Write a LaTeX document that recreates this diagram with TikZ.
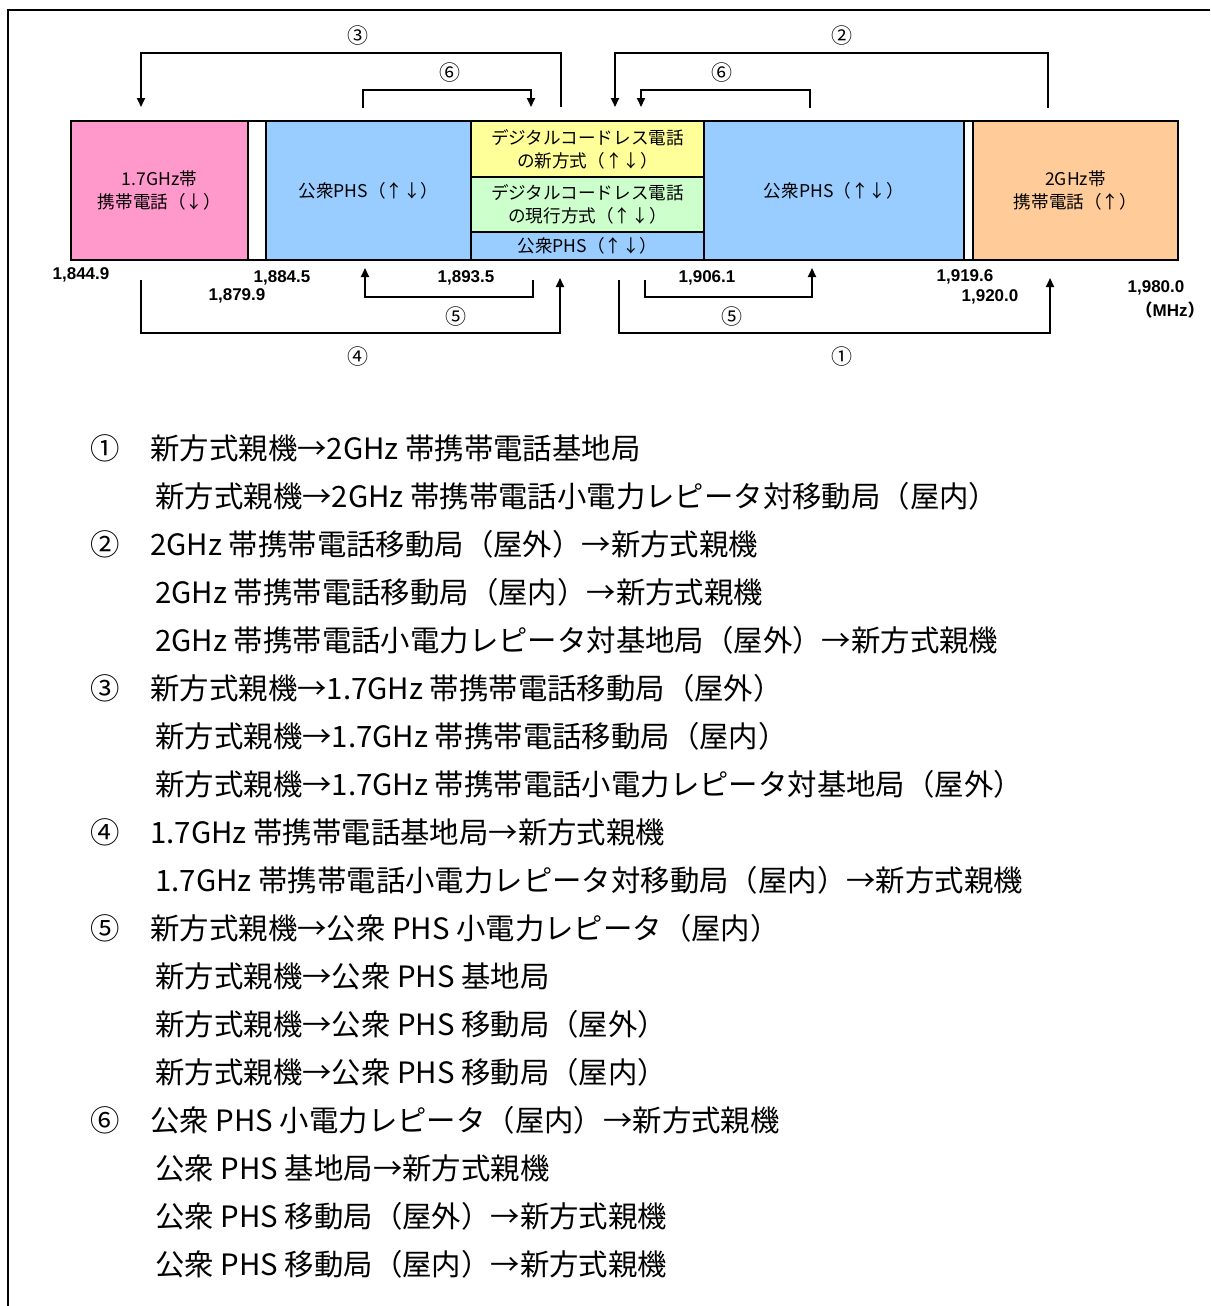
\documentclass[tikz,border=0pt]{standalone}
\usepackage{fontspec}
\setmainfont{Noto Sans CJK JP}
\newfontfamily\numfont{Liberation Sans}
\usetikzlibrary{arrows.meta}
\definecolor{cpink}{HTML}{FF99CC}
\definecolor{cblue}{HTML}{99CCFF}
\definecolor{cyellow}{HTML}{FFFF99}
\definecolor{cgreen}{HTML}{CCFFCC}
\definecolor{corange}{HTML}{FFCC99}
\begin{document}
\begin{tikzpicture}[x=0.5pt,y=-0.5pt,
 band/.style={draw=black,line width=0.75pt,inner sep=0pt,align=center,font=\fontsize{8.8}{11.5}\selectfont},
 conn/.style={draw=black,line width=1pt},
 arr/.style={conn,-{Triangle[length=4.5pt,width=4pt]}},
 num/.style={font=\numfont\bfseries\fontsize{8.5}{10}\selectfont,inner sep=0pt},
 circ/.style={font=\fontsize{10.5}{12}\selectfont,inner sep=0pt},
 litem/.style={anchor=west,inner sep=0pt,font=\fontsize{14.7}{16}\selectfont},
 lcirc/.style={inner sep=0pt,font=\fontsize{14.7}{16}\selectfont}
]
\useasboundingbox (0,0) rectangle (1210,1306);
% frame
\coordinate (fa) at (1210,10);
\coordinate (fb) at (8,10);
\coordinate (fc) at (8,1306);
\draw[line width=1pt] (fa) -- (fb) -- (fc);

% band
\node[band,fill=cpink,minimum width=88.5pt,minimum height=69.5pt] (pink) at (159.5,190.5) {1.7GHz帯\\携帯電話（↓）};
\node[band,fill=white,minimum width=9pt,minimum height=69.5pt] (gap1) at (257,190.5) {};
\node[band,fill=cblue,minimum width=102.5pt,minimum height=69.5pt] (phsA) at (368.5,190.5) {公衆PHS（↑↓）};
\node[band,fill=cyellow,minimum width=116.5pt,minimum height=28pt] (newdc) at (587.5,149) {デジタルコードレス電話\\の新方式（↑↓）};
\node[band,fill=cgreen,minimum width=116.5pt,minimum height=27.5pt] (curdc) at (587.5,204.5) {デジタルコードレス電話\\の現行方式（↑↓）};
\node[band,fill=cblue,minimum width=116.5pt,minimum height=14pt] (phsM) at (587.5,246) {公衆PHS（↑↓）};
\node[band,fill=cblue,minimum width=130pt,minimum height=69.5pt] (phsB) at (834,190.5) {公衆PHS（↑↓）};
\node[band,fill=white,minimum width=4.5pt,minimum height=69.5pt] (gap2) at (968.5,190.5) {};
\node[band,fill=corange,minimum width=102.5pt,minimum height=69.5pt] (orange) at (1075.5,190.5) {2GHz帯\\携帯電話（↑）};

% frequency labels
\node[num] (f1) at (81,275) {1,844.9};
\node[num] (f2) at (282,278) {1,884.5};
\node[num] (f3) at (237,296) {1,879.9};
\node[num] (f4) at (466,278) {1,893.5};
\node[num] (f5) at (707,278) {1,906.1};
\node[num] (f6) at (965,277) {1,919.6};
\node[num] (f7) at (990,297) {1,920.0};
\node[num] (f8) at (1156,288) {1,980.0};
\node[num,anchor=east] (f9) at (1205,310) {{\rmfamily （}MHz{\rmfamily ）}};

% top brackets
\coordinate (t3a) at (561,107); \coordinate (t3b) at (561,53);
\coordinate (t3c) at (141,53);  \coordinate (t3d) at (141,107);
\draw[arr] (t3a) -- (t3b) -- (t3c) -- (t3d);
\node[circ] (n3) at (358,36) {③};
\coordinate (t6a) at (363,108); \coordinate (t6b) at (363,90);
\coordinate (t6c) at (531,90);  \coordinate (t6d) at (531,107);
\draw[arr] (t6a) -- (t6b) -- (t6c) -- (t6d);
\node[circ] (n6a) at (450,73) {⑥};
\coordinate (t2a) at (1048,108); \coordinate (t2b) at (1048,53);
\coordinate (t2c) at (615,53);   \coordinate (t2d) at (615,107);
\draw[arr] (t2a) -- (t2b) -- (t2c) -- (t2d);
\node[circ] (n2) at (842,36) {②};
\coordinate (t6e) at (810,108); \coordinate (t6f) at (810,90);
\coordinate (t6g) at (641,90);  \coordinate (t6h) at (641,107);
\draw[arr] (t6e) -- (t6f) -- (t6g) -- (t6h);
\node[circ] (n6b) at (722,73) {⑥};

% bottom brackets
\coordinate (b4a) at (141,280); \coordinate (b4b) at (141,333);
\coordinate (b4c) at (560,333); \coordinate (b4d) at (560,278);
\draw[arr] (b4a) -- (b4b) -- (b4c) -- (b4d);
\node[circ] (n4) at (358,357) {④};
\coordinate (b5a) at (533,280); \coordinate (b5b) at (533,297);
\coordinate (b5c) at (365,297); \coordinate (b5d) at (365,268);
\draw[arr] (b5a) -- (b5b) -- (b5c) -- (b5d);
\node[circ] (n5a) at (456,317) {⑤};
\coordinate (b1a) at (619,280); \coordinate (b1b) at (619,333);
\coordinate (b1c) at (1050,333); \coordinate (b1d) at (1050,278);
\draw[arr] (b1a) -- (b1b) -- (b1c) -- (b1d);
\node[circ] (n1) at (842,357) {①};
\coordinate (b5e) at (645,280); \coordinate (b5f) at (645,297);
\coordinate (b5g) at (812,297); \coordinate (b5h) at (812,268);
\draw[arr] (b5e) -- (b5f) -- (b5g) -- (b5h);
\node[circ] (n5b) at (732,317) {⑤};

% list
\node[lcirc] (k1) at (105,448) {①};
\node[litem] (l0) at (150,448) {新方式親機→2GHz 帯携帯電話基地局};
\node[litem] (l1) at (155,496) {新方式親機→2GHz 帯携帯電話小電力レピータ対移動局（屋内）};
\node[lcirc] (k2) at (105,544) {②};
\node[litem] (l2) at (150,544) {2GHz 帯携帯電話移動局（屋外）→新方式親機};
\node[litem] (l3) at (155,592) {2GHz 帯携帯電話移動局（屋内）→新方式親機};
\node[litem] (l4) at (155,640) {2GHz 帯携帯電話小電力レピータ対基地局（屋外）→新方式親機};
\node[lcirc] (k3) at (105,688) {③};
\node[litem] (l5) at (150,688) {新方式親機→1.7GHz 帯携帯電話移動局（屋外）};
\node[litem] (l6) at (155,736) {新方式親機→1.7GHz 帯携帯電話移動局（屋内）};
\node[litem] (l7) at (155,784) {新方式親機→1.7GHz 帯携帯電話小電力レピータ対基地局（屋外）};
\node[lcirc] (k4) at (105,832) {④};
\node[litem] (l8) at (150,832) {1.7GHz 帯携帯電話基地局→新方式親機};
\node[litem] (l9) at (155,880) {1.7GHz 帯携帯電話小電力レピータ対移動局（屋内）→新方式親機};
\node[lcirc] (k5) at (105,928) {⑤};
\node[litem] (l10) at (150,928) {新方式親機→公衆 PHS 小電力レピータ（屋内）};
\node[litem] (l11) at (155,976) {新方式親機→公衆 PHS 基地局};
\node[litem] (l12) at (155,1024) {新方式親機→公衆 PHS 移動局（屋外）};
\node[litem] (l13) at (155,1072) {新方式親機→公衆 PHS 移動局（屋内）};
\node[lcirc] (k6) at (105,1120) {⑥};
\node[litem] (l14) at (150,1120) {公衆 PHS 小電力レピータ（屋内）→新方式親機};
\node[litem] (l15) at (155,1168) {公衆 PHS 基地局→新方式親機};
\node[litem] (l16) at (155,1216) {公衆 PHS 移動局（屋外）→新方式親機};
\node[litem] (l17) at (155,1264) {公衆 PHS 移動局（屋内）→新方式親機};
\end{tikzpicture}
\end{document}
